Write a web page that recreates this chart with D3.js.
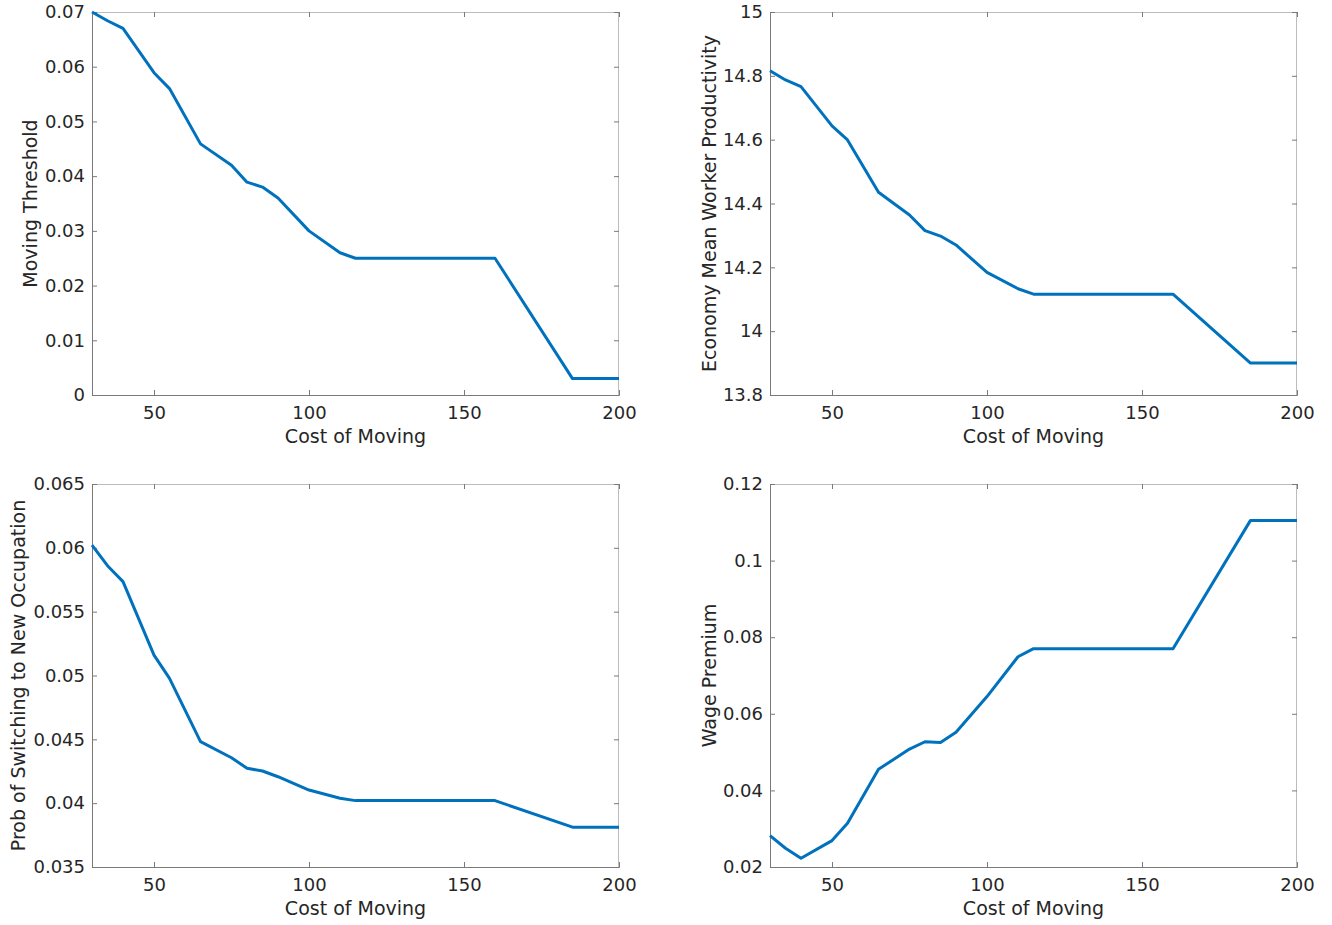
<!DOCTYPE html>
<html>
<head>
<meta charset="utf-8">
<script src="https://cdn.jsdelivr.net/npm/d3@7"></script>
<style>
  html, body { margin: 0; padding: 0; background: #fff; }
  svg { display: block; font-family: "DejaVu Sans", sans-serif; }
</style>
</head>
<body>
<svg id="chart" width="1332" height="925"></svg>
<script>
// Cost of moving (x values)
const costOfMoving = [30, 35, 40, 50, 55, 65, 75, 80, 85, 90, 100, 110, 115, 160, 185, 200];

// Series
const movingThreshold = [0.0700, 0.0684, 0.0670, 0.0589, 0.0560, 0.0459, 0.0420, 0.0389, 0.0380, 0.0360, 0.0300, 0.0260, 0.0250, 0.0250, 0.0030, 0.0030];
const meanProductivity = [14.816, 14.787, 14.766, 14.643, 14.599, 14.435, 14.364, 14.315, 14.298, 14.270, 14.184, 14.133, 14.116, 14.116, 13.900, 13.900];
const probSwitching = [0.06022, 0.0586, 0.05735, 0.0516, 0.04978, 0.04482, 0.04356, 0.04273, 0.04252, 0.04207, 0.04103, 0.04038, 0.0402, 0.0402, 0.03812, 0.03812];
const wagePremium = [0.0282, 0.0249, 0.0223, 0.0269, 0.0314, 0.0455, 0.0508, 0.0527, 0.0525, 0.0552, 0.0645, 0.0749, 0.0770, 0.0770, 0.1105, 0.1105];

// Tick values and labels
const xTicks = [50, 100, 150, 200];
const yTicks1 = [0, 0.01, 0.02, 0.03, 0.04, 0.05, 0.06, 0.07];
const yLabels1 = ["0", "0.01", "0.02", "0.03", "0.04", "0.05", "0.06", "0.07"];
const yTicks2 = [13.8, 14, 14.2, 14.4, 14.6, 14.8, 15];
const yLabels2 = ["13.8", "14", "14.2", "14.4", "14.6", "14.8", "15"];
const yTicks3 = [0.035, 0.04, 0.045, 0.05, 0.055, 0.06, 0.065];
const yLabels3 = ["0.035", "0.04", "0.045", "0.05", "0.055", "0.06", "0.065"];
const yTicks4 = [0.02, 0.04, 0.06, 0.08, 0.1, 0.12];
const yLabels4 = ["0.02", "0.04", "0.06", "0.08", "0.1", "0.12"];

const xLabel = "Cost of Moving";

const panels = [
  { left: 92,  top: 12,  values: movingThreshold,  yDomain: [0, 0.07],     ticks: yTicks1, labels: yLabels1, title: "Moving Threshold", labelX: 30 },
  { left: 770, top: 12,  values: meanProductivity, yDomain: [13.8, 15],    ticks: yTicks2, labels: yLabels2, title: "Economy Mean Worker Productivity", labelX: 709 },
  { left: 92,  top: 484, values: probSwitching,    yDomain: [0.035, 0.065], ticks: yTicks3, labels: yLabels3, title: "Prob of Switching to New Occupation", labelX: 18 },
  { left: 770, top: 484, values: wagePremium,      yDomain: [0.02, 0.12],  ticks: yTicks4, labels: yLabels4, title: "Wage Premium", labelX: 709 }
];

const W = 527, H = 383;
const tickLen = 5;
const dark = "#262626";
const axisGray = "#7a7a7a";
const svg = d3.select("#chart");

panels.forEach(p => {
  const g = svg.append("g").attr("transform", `translate(${p.left},${p.top})`);
  const x = d3.scaleLinear().domain([30, 200]).range([0, W]);
  const y = d3.scaleLinear().domain(p.yDomain).range([H, 0]);

  // box: top/right lighter
  g.append("line").attr("x1", 0).attr("x2", W).attr("y1", 0.5).attr("y2", 0.5).attr("stroke", "#bcbcbc");
  g.append("line").attr("x1", W - 0.5).attr("x2", W - 0.5).attr("y1", 0).attr("y2", H).attr("stroke", "#bcbcbc");

  // bottom axis
  const xb = g.append("g").attr("transform", `translate(0,${H})`)
    .call(d3.axisBottom(x).tickValues(xTicks).tickSize(-tickLen).tickPadding(11).tickFormat(d3.format("d")));
  // top ticks
  const xt = g.append("g")
    .call(d3.axisTop(x).tickValues(xTicks).tickSize(-tickLen).tickFormat(""));
  xt.select(".domain").remove();
  xt.selectAll(".tick line").attr("stroke", axisGray);

  // left axis
  const yl = g.append("g")
    .call(d3.axisLeft(y).tickValues(p.ticks).tickSize(-tickLen).tickPadding(7)
      .tickFormat((d, i) => p.labels[i]));
  // right ticks
  const yr = g.append("g").attr("transform", `translate(${W},0)`)
    .call(d3.axisRight(y).tickValues(p.ticks).tickSize(-tickLen).tickFormat(""));
  yr.select(".domain").remove();
  yr.selectAll(".tick line").attr("stroke", axisGray);

  [xb, yl].forEach(a => {
    a.select(".domain").attr("stroke", axisGray).attr("stroke-width", 1);
    a.selectAll(".tick line").attr("stroke", axisGray);
    a.selectAll(".tick text").attr("fill", dark).style("font-size", "18px").style("font-family", "DejaVu Sans");
  });

  // line
  const line = d3.line().x((d, i) => x(costOfMoving[i])).y(d => y(d));
  g.append("path").datum(p.values)
    .attr("d", line)
    .attr("fill", "none")
    .attr("stroke", "#0072BD")
    .attr("stroke-width", 3)
    .attr("stroke-linejoin", "round");

  // x label
  g.append("text").attr("x", W / 2).attr("y", H + 48)
    .attr("text-anchor", "middle").attr("fill", dark)
    .style("font-size", "19px").text(xLabel);

  // y label (centre of glyphs at labelX)
  g.append("text")
    .attr("transform", `translate(${p.labelX - p.left + 7},${H / 2}) rotate(-90)`)
    .attr("text-anchor", "middle").attr("fill", dark)
    .style("font-size", "19px").text(p.title);
});
</script>
</body>
</html>
